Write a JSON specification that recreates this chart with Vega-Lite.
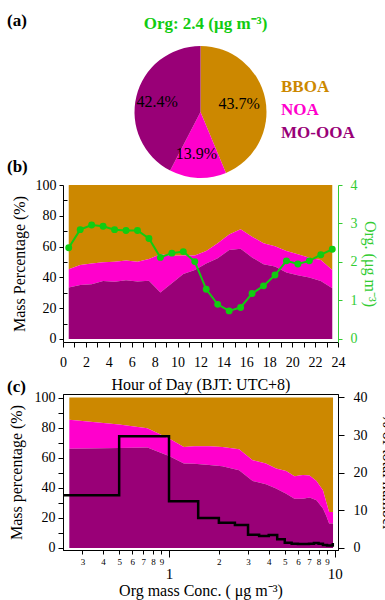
{
  "$schema": "https://vega.github.io/schema/vega-lite/v6.json",
  "autosize": {"type": "none"},
  "padding": {"left": 63, "top": 91, "right": 322, "bottom": 509},
  "background": "white",
  "config": {
    "font": "Liberation Serif",
    "view": {"stroke": null},
    "axis": {
      "labelFont": "Liberation Serif",
      "titleFont": "Liberation Serif",
      "labelFontSize": 14,
      "titleFontSize": 16,
      "titleFontWeight": "normal",
      "labelColor": "black",
      "titleColor": "black",
      "domainColor": "black",
      "tickColor": "black",
      "grid": false,
      "labelFlush": false,
      "labelOverlap": false,
      "labelSeparation": -50
    },
    "title": {"font": "Liberation Serif"}
  },
  "title": {"text": "(a)", "anchor": "start", "frame": "group", "dx": -56, "fontSize": 17, "fontWeight": "bold", "baseline": "alphabetic", "offset": 0, "dy": 28},
  "bounds": "flush",
  "spacing": 52,
  "datasets": {
    "pie": [
      {"species": "BBOA", "pct": 43.7, "rank": 1, "label": "43.7%"},
      {"species": "NOA", "pct": 13.9, "rank": 2, "label": "13.9%"},
      {"species": "MO-OOA", "pct": 42.4, "rank": 3, "label": "42.4%"}
    ],
    "diurnal": [
      {"hour": 0.5, "mo": 33.4, "noa_top": 45.3, "org": 2.37},
      {"hour": 1.5, "mo": 35.1, "noa_top": 48.1, "org": 2.84},
      {"hour": 2.5, "mo": 35.6, "noa_top": 49.1, "org": 2.96},
      {"hour": 3.5, "mo": 37.7, "noa_top": 49.8, "org": 2.93},
      {"hour": 4.5, "mo": 37.1, "noa_top": 50.2, "org": 2.84},
      {"hour": 5.5, "mo": 38.1, "noa_top": 50.9, "org": 2.82},
      {"hour": 6.5, "mo": 37.3, "noa_top": 50.2, "org": 2.82},
      {"hour": 7.5, "mo": 37.9, "noa_top": 51.9, "org": 2.61},
      {"hour": 8.5, "mo": 30.2, "noa_top": 55.0, "org": 2.12},
      {"hour": 9.5, "mo": 36.2, "noa_top": 54.1, "org": 2.23},
      {"hour": 10.5, "mo": 42.2, "noa_top": 54.3, "org": 2.27},
      {"hour": 11.5, "mo": 44.8, "noa_top": 54.2, "org": 2.01},
      {"hour": 12.5, "mo": 49.1, "noa_top": 57.1, "org": 1.29},
      {"hour": 13.5, "mo": 52.4, "noa_top": 62.1, "org": 0.90},
      {"hour": 14.5, "mo": 57.8, "noa_top": 67.9, "org": 0.73},
      {"hour": 15.5, "mo": 58.6, "noa_top": 71.3, "org": 0.82},
      {"hour": 16.5, "mo": 53.0, "noa_top": 66.4, "org": 1.18},
      {"hour": 17.5, "mo": 48.5, "noa_top": 62.1, "org": 1.38},
      {"hour": 18.5, "mo": 47.0, "noa_top": 60.3, "org": 1.66},
      {"hour": 19.5, "mo": 43.1, "noa_top": 57.1, "org": 2.03},
      {"hour": 20.5, "mo": 41.4, "noa_top": 55.0, "org": 1.95},
      {"hour": 21.5, "mo": 39.9, "noa_top": 52.8, "org": 2.03},
      {"hour": 22.5, "mo": 37.7, "noa_top": 51.3, "org": 2.19},
      {"hour": 23.5, "mo": 33.0, "noa_top": 44.8, "org": 2.33}
    ],
    "conc": [
      {"conc": 0.25, "mo": 66.0, "noa_top": 85.3},
      {"conc": 0.5, "mo": 66.5, "noa_top": 82.0},
      {"conc": 0.74, "mo": 66.7, "noa_top": 79.5},
      {"conc": 1.0, "mo": 61.1, "noa_top": 72.7},
      {"conc": 1.23, "mo": 56.1, "noa_top": 67.1},
      {"conc": 1.42, "mo": 56.0, "noa_top": 67.6},
      {"conc": 1.75, "mo": 55.2, "noa_top": 67.6},
      {"conc": 2.1, "mo": 54.3, "noa_top": 67.1},
      {"conc": 2.65, "mo": 51.6, "noa_top": 65.6},
      {"conc": 3.2, "mo": 44.5, "noa_top": 58.3},
      {"conc": 3.85, "mo": 42.3, "noa_top": 56.1},
      {"conc": 4.43, "mo": 39.5, "noa_top": 52.8},
      {"conc": 5.1, "mo": 36.1, "noa_top": 51.2},
      {"conc": 5.72, "mo": 32.8, "noa_top": 47.6},
      {"conc": 6.43, "mo": 32.8, "noa_top": 48.5},
      {"conc": 7.06, "mo": 33.5, "noa_top": 48.1},
      {"conc": 7.77, "mo": 31.7, "noa_top": 44.5},
      {"conc": 8.5, "mo": 26.2, "noa_top": 38.3},
      {"conc": 8.9, "mo": 21.5, "noa_top": 30.6},
      {"conc": 9.26, "mo": 16.2, "noa_top": 23.9},
      {"conc": 9.78, "mo": 16.2, "noa_top": 23.9}
    ],
    "steps": [
      {"conc": 0.2, "num": 14.0},
      {"conc": 0.5, "num": 29.7},
      {"conc": 1.0, "num": 12.4},
      {"conc": 1.5, "num": 8.0},
      {"conc": 2.0, "num": 6.7},
      {"conc": 2.5, "num": 6.1},
      {"conc": 3.0, "num": 3.55},
      {"conc": 3.5, "num": 3.2},
      {"conc": 4.0, "num": 3.45},
      {"conc": 4.5, "num": 2.3},
      {"conc": 5.0, "num": 1.4},
      {"conc": 5.5, "num": 1.1},
      {"conc": 6.0, "num": 1.05},
      {"conc": 6.5, "num": 1.05},
      {"conc": 7.0, "num": 1.1},
      {"conc": 7.5, "num": 1.3},
      {"conc": 8.0, "num": 1.1},
      {"conc": 8.5, "num": 0.8},
      {"conc": 9.0, "num": 0.65},
      {"conc": 9.75, "num": 1.3}
    ]
  },
  "vconcat": [
    {
      "width": 275,
      "height": 42,
      "title": {"text": "Org: 2.4 (μg m⁻³)", "color": "#11cc11", "fontSize": 17, "fontWeight": "bold", "anchor": "middle", "frame": "group", "dx": 5, "dy": 14, "baseline": "alphabetic", "offset": 14},
      "data": {"name": "pie"},
      "encoding": {
        "theta": {"field": "pct", "type": "quantitative", "stack": true},
        "order": {"field": "rank", "type": "quantitative"}
      },
      "layer": [
        {
          "mark": {"type": "arc", "outerRadius": 66},
          "encoding": {
            "color": {
              "field": "species", "type": "nominal",
              "scale": {"domain": ["BBOA", "NOA", "MO-OOA"], "range": ["#cc8800", "#ff00cc", "#990077"]},
              "legend": {
                "orient": "none", "legendX": 201, "legendY": -13, "title": null,
                "symbolSize": 0, "symbolOpacity": 0, "symbolStrokeWidth": 0, "labelOffset": 0, "padding": 0,
                "labelFontSize": 17, "labelFontWeight": "bold", "labelFont": "Liberation Serif", "rowPadding": 5,
                "labelColor": {"expr": "datum.label == 'BBOA' ? '#cc8800' : datum.label == 'NOA' ? '#ff00cc' : '#990077'"}
              }
            }
          }
        },
        {
          "mark": {"type": "text", "radius": 42, "dx": -2.5, "fontSize": 16, "color": "black"},
          "encoding": {"text": {"field": "label"}, "detail": {"field": "species"}}
        }
      ]
    },
    {
      "width": 275,
      "height": 157,
      "title": {"text": "(b)", "anchor": "start", "frame": "group", "dx": -56, "dy": 18, "fontSize": 17, "fontWeight": "bold", "baseline": "alphabetic", "offset": 7},
      "data": {"name": "diurnal"},
      "layer": [
        {
          "encoding": {
            "x": {
              "field": "hour", "type": "quantitative",
              "scale": {"domain": [0, 24], "nice": false, "zero": false},
              "axis": {
                "title": "Hour of Day (BJT: UTC+8)",
                "values": [0,1,2,3,4,5,6,7,8,9,10,11,12,13,14,15,16,17,18,19,20,21,22,23,24],
                "labelExpr": "datum.value % 2 == 0 ? datum.label : ''",
                "labelOverlap": false, "labelFlush": false, "labelSeparation": -50,
                "tickSize": 5, "labelPadding": 8, "titlePadding": 7
              }
            }
          },
          "layer": [
            {
              "mark": {"type": "area", "color": "#cc8800"},
              "encoding": {
                "y": {
                  "field": "noa_top", "type": "quantitative", "title": "Mass Percentage (%)",
                  "scale": {"domain": [-1.95, 100], "nice": false, "zero": false},
                  "axis": {
                    "values": [0,10,20,30,40,50,60,70,80,90,100],
                    "labelExpr": "datum.value % 20 == 0 ? datum.label : ''",
                    "labelOverlap": false, "labelFlush": false, "labelSeparation": -50,
                    "tickSize": {"condition": {"test": "datum.value % 20 == 0", "value": 4}, "value": -4},
                    "labelPadding": 3, "titlePadding": 8
                  }
                },
                "y2": {"datum": 100}
              }
            },
            {
              "mark": {"type": "area", "color": "#ff00cc"},
              "encoding": {
                "y": {
                  "field": "noa_top", "type": "quantitative", "title": "Mass Percentage (%)",
                  "axis": {
                    "values": [0,10,20,30,40,50,60,70,80,90,100],
                    "labelExpr": "datum.value % 20 == 0 ? datum.label : ''",
                    "labelOverlap": false, "labelFlush": false, "labelSeparation": -50,
                    "tickSize": {"condition": {"test": "datum.value % 20 == 0", "value": 4}, "value": -4},
                    "labelPadding": 3, "titlePadding": 8
                  }
                },
                "y2": {"field": "mo"}
              }
            },
            {
              "mark": {"type": "area", "color": "#990077"},
              "encoding": {
                "y": {
                  "field": "mo", "type": "quantitative", "title": "Mass Percentage (%)",
                  "axis": {
                    "values": [0,10,20,30,40,50,60,70,80,90,100],
                    "labelExpr": "datum.value % 20 == 0 ? datum.label : ''",
                    "labelOverlap": false, "labelFlush": false, "labelSeparation": -50,
                    "tickSize": {"condition": {"test": "datum.value % 20 == 0", "value": 4}, "value": -4},
                    "labelPadding": 3, "titlePadding": 8
                  }
                },
                "y2": {"datum": 0}
              }
            }
          ]
        },
        {
          "encoding": {
            "x": {
              "field": "hour", "type": "quantitative",
              "axis": {
                "title": "Hour of Day (BJT: UTC+8)",
                "values": [0,1,2,3,4,5,6,7,8,9,10,11,12,13,14,15,16,17,18,19,20,21,22,23,24],
                "labelExpr": "datum.value % 2 == 0 ? datum.label : ''",
                "labelOverlap": false, "labelFlush": false, "labelSeparation": -50,
                "tickSize": 5, "labelPadding": 8, "titlePadding": 7
              }
            },
            "y": {
              "field": "org", "type": "quantitative",
              "scale": {"domain": [-0.078, 4], "nice": false, "zero": false},
              "axis": {
                "orient": "right", "title": "Org. (μg m⁻³)", "values": [0, 1, 2, 3, 4],
                "labelOverlap": false, "labelFlush": false,
                "tickSize": 4, "labelPadding": 8, "titlePadding": 4,
                "domainColor": "#33cc33", "tickColor": "#33cc33", "labelColor": "#33cc33", "titleColor": "#33cc33"
              }
            }
          },
          "layer": [
            {"mark": {"type": "line", "color": "#11cc11", "strokeWidth": 2}},
            {"mark": {"type": "point", "filled": true, "size": 48, "color": "#11cc11", "opacity": 1}}
          ]
        }
      ],
      "resolve": {"scale": {"y": "independent"}}
    },
    {
      "width": 275,
      "height": 156,
      "view": {"stroke": "black", "strokeWidth": 1},
      "title": {"text": "(c)", "anchor": "start", "frame": "group", "dx": -56, "dy": 18, "fontSize": 17, "fontWeight": "bold", "baseline": "alphabetic", "offset": -1},
      "layer": [
        {
          "data": {"name": "conc"},
          "encoding": {
            "x": {
              "field": "conc", "type": "quantitative",
              "scale": {"type": "log", "domain": [0.229, 10.48], "nice": false},
              "axis": {
                "title": "Org mass Conc. ( μg m⁻³)",
                "values": [0.3,0.4,0.5,0.6,0.7,0.8,0.9,1,2,3,4,5,6,7,8,9,10],
                "labelExpr": "datum.value < 0.95 ? '' + round(datum.value * 10) : '' + round(datum.value)",
                "labelOverlap": false, "labelFlush": false, "labelSeparation": -50,
                "labelFontSize": {"condition": {"test": "datum.value == 1 || datum.value == 10", "value": 15}, "value": 9},
                "tickSize": {"condition": {"test": "datum.value == 1 || datum.value == 10", "value": 7}, "value": 4},
                "labelPadding": {"condition": {"test": "datum.value == 1 || datum.value == 10", "value": 9}, "value": 3},
                "titlePadding": 1
              }
            }
          },
          "layer": [
            {
              "mark": {"type": "area", "color": "#cc8800"},
              "encoding": {
                "y": {
                  "field": "noa_top", "type": "quantitative", "title": "Mass percentage (%)",
                  "scale": {"domain": [-1.33, 102.33], "nice": false, "zero": false},
                  "axis": {
                    "values": [0,10,20,30,40,50,60,70,80,90,100],
                    "labelExpr": "datum.value % 20 == 0 ? datum.label : ''",
                    "labelOverlap": false, "labelFlush": false, "labelSeparation": -50,
                    "tickSize": 5, "labelPadding": 3, "titlePadding": 10
                  }
                },
                "y2": {"datum": 100}
              }
            },
            {
              "mark": {"type": "area", "color": "#ff00cc"},
              "encoding": {
                "y": {
                  "field": "noa_top", "type": "quantitative", "title": "Mass percentage (%)",
                  "axis": {
                    "values": [0,10,20,30,40,50,60,70,80,90,100],
                    "labelExpr": "datum.value % 20 == 0 ? datum.label : ''",
                    "labelOverlap": false, "labelFlush": false, "labelSeparation": -50,
                    "tickSize": 5, "labelPadding": 3, "titlePadding": 10
                  }
                },
                "y2": {"field": "mo"}
              }
            },
            {
              "mark": {"type": "area", "color": "#990077"},
              "encoding": {
                "y": {
                  "field": "mo", "type": "quantitative", "title": "Mass percentage (%)",
                  "axis": {
                    "values": [0,10,20,30,40,50,60,70,80,90,100],
                    "labelExpr": "datum.value % 20 == 0 ? datum.label : ''",
                    "labelOverlap": false, "labelFlush": false, "labelSeparation": -50,
                    "tickSize": 5, "labelPadding": 3, "titlePadding": 10
                  }
                },
                "y2": {"datum": 0}
              }
            }
          ]
        },
        {
          "data": {"name": "steps"},
          "mark": {"type": "line", "interpolate": "step-after", "color": "black", "strokeWidth": 2.5, "clip": true},
          "encoding": {
            "x": {
              "field": "conc", "type": "quantitative",
              "axis": {
                "title": "Org mass Conc. ( μg m⁻³)",
                "values": [0.3,0.4,0.5,0.6,0.7,0.8,0.9,1,2,3,4,5,6,7,8,9,10],
                "labelExpr": "datum.value < 0.95 ? '' + round(datum.value * 10) : '' + round(datum.value)",
                "labelOverlap": false, "labelFlush": false, "labelSeparation": -50,
                "labelFontSize": {"condition": {"test": "datum.value == 1 || datum.value == 10", "value": 15}, "value": 9},
                "tickSize": {"condition": {"test": "datum.value == 1 || datum.value == 10", "value": 7}, "value": 4},
                "labelPadding": {"condition": {"test": "datum.value == 1 || datum.value == 10", "value": 9}, "value": 3},
                "titlePadding": 1
              }
            },
            "y": {
              "field": "num", "type": "quantitative",
              "scale": {"domain": [-0.532, 40.93], "nice": false, "zero": false},
              "axis": {
                "orient": "right", "title": "% of total number", "values": [0, 10, 20, 30, 40],
                "labelOverlap": false, "labelFlush": false,
                "tickSize": 6, "labelPadding": 9, "titlePadding": 12
              }
            }
          }
        }
      ],
      "resolve": {"scale": {"y": "independent"}}
    }
  ]
}
